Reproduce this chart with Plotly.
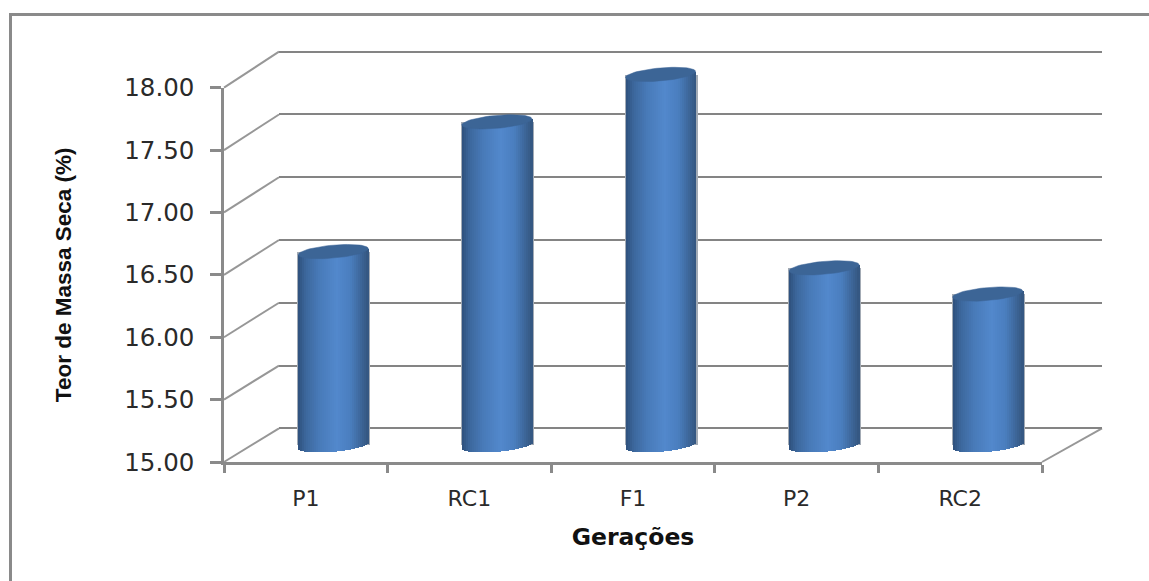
import math
import plotly.graph_objects as go

# ---- data ----
categories = ["P1", "RC1", "F1", "P2", "RC2"]
teor_massa_seca = [16.55, 17.59, 17.97, 16.42, 16.21]
y_ticks = [15.0, 15.5, 16.0, 16.5, 17.0, 17.5, 18.0]
y_tick_labels = ["15.00", "15.50", "16.00", "16.50", "17.00", "17.50", "18.00"]
x_title = "Gerações"
y_title = "Teor de Massa Seca (%)"

# ---- page geometry (pixels) ----
W, H = 1149, 581
FRONT_L, FRONT_R, FRONT_B, FRONT_T = 224, 1042, 462, 87.7
WALL_L, WALL_R, WALL_B, WALL_T = 279, 1102, 428.3, 51.7
MID_DX, MID_DY = 27.5, 17
BAR_PX = 70
MINOR_PX, TILT_PX = 6.5, 3.0
GREY = "#8a8a8a"
PAD = 0.2  # extra value range for hidden axes, so nothing falls on an axis end

px_per_cat = (FRONT_R - FRONT_L) / len(categories)
px_per_val = (FRONT_B - FRONT_T) / (y_ticks[-1] - y_ticks[0])
wall_px_per_val = (WALL_B - WALL_T) / (y_ticks[-1] - y_ticks[0])


def xdom(a, b):
    return [a / W, b / W]


def ydom(bottom, top):
    return [1 - bottom / H, 1 - top / H]


def shade(t):
    stops = [(-1.0, (46, 80, 124)), (-0.78, (60, 103, 156)), (-0.4, (72, 122, 184)),
             (0.1, (82, 136, 204)), (0.5, (74, 126, 190)), (0.82, (60, 100, 150)),
             (1.0, (52, 86, 128))]
    for (a, ca), (b, cb) in zip(stops, stops[1:]):
        if a <= t <= b:
            f = (t - a) / (b - a)
            r, g, bl = [round(p + (q - p) * f) for p, q in zip(ca, cb)]
            return f"rgb({r},{g},{bl})"
    return "rgb(52,86,128)"


fig = go.Figure()

# Front axes carry the labels
fig.add_trace(go.Scatter(x=categories, y=teor_massa_seca, mode="none",
                         xaxis="x", yaxis="y", hoverinfo="skip", showlegend=False))
# Back wall carries the gridlines
fig.add_trace(go.Scatter(x=categories, y=teor_massa_seca, mode="none",
                         xaxis="x2", yaxis="y2", hoverinfo="skip", showlegend=False))

positions = list(range(len(categories)))

# Pale halo behind each cylinder
fig.add_trace(go.Bar(x=positions, y=[v - y_ticks[0] for v in teor_massa_seca], base=y_ticks[0],
                     width=(BAR_PX + 3) / px_per_cat, marker=dict(color="#a3abb5", line_width=0),
                     xaxis="x3", yaxis="y3", cliponaxis=False, showlegend=False, hoverinfo="skip"))

# Cylinder bodies: narrow vertical strips that follow the curved bottom
N = 35
step = 2.0 / N
for j in range(N):
    t = -1 + step * (j + 0.5)
    root = math.sqrt(max(0.0, 1 - t * t))
    base = y_ticks[0] - (MINOR_PX * root - TILT_PX * t) / px_per_val
    tops = [v + TILT_PX * t / px_per_val for v in teor_massa_seca]
    fig.add_trace(go.Bar(
        x=[p + t * BAR_PX / 2 / px_per_cat for p in positions],
        y=[top - base for top in tops], base=base,
        width=(BAR_PX / N + 0.7) / px_per_cat,
        marker=dict(color=shade(t), line_width=0),
        xaxis="x3", yaxis="y3", cliponaxis=False, showlegend=False, hoverinfo="skip"))

# Elliptical caps
for p, v in zip(positions, teor_massa_seca):
    xs, ys = [], []
    for k in range(61):
        a = 2 * math.pi * k / 60
        c, s = math.cos(a), math.sin(a)
        xs.append(p + c * BAR_PX / 2 / px_per_cat)
        ys.append(v + (MINOR_PX * s + TILT_PX * c) / px_per_val)
    fig.add_trace(go.Scatter(x=xs, y=ys, mode="lines", fill="toself", fillcolor="#3c6596",
                             line=dict(color="#3c6596", width=0.5), xaxis="x3", yaxis="y3",
                             cliponaxis=False, showlegend=False, hoverinfo="skip"))

# Depth lines joining the front axis to the back wall
shapes = []
for v in y_ticks:
    f = (v - y_ticks[0]) / (y_ticks[-1] - y_ticks[0])
    shapes.append(dict(type="line", xref="paper", yref="paper", layer="below",
                       x0=FRONT_L / W, x1=WALL_L / W,
                       y0=1 - (FRONT_B - f * (FRONT_B - FRONT_T)) / H,
                       y1=1 - (WALL_B - f * (WALL_B - WALL_T)) / H,
                       line=dict(color="#979797", width=2)))
shapes.append(dict(type="line", xref="paper", yref="paper", layer="below",
                   x0=FRONT_R / W, x1=WALL_R / W, y0=1 - FRONT_B / H, y1=1 - WALL_B / H,
                   line=dict(color="#979797", width=2)))
# Outer frame: only the top and left edges are visible
shapes.append(dict(type="line", xref="paper", yref="paper", x0=10.5 / W, x1=1, y0=1 - 14.5 / H, y1=1 - 14.5 / H,
                   line=dict(color=GREY, width=3)))
shapes.append(dict(type="line", xref="paper", yref="paper", x0=10.5 / W, x1=10.5 / W, y0=0, y1=1 - 13 / H,
                   line=dict(color=GREY, width=3)))

fig.update_layout(
    width=W, height=H, autosize=False, showlegend=False,
    margin=dict(l=0, r=0, t=0, b=0, autoexpand=False), paper_bgcolor="white", plot_bgcolor="rgba(0,0,0,0)",
    barmode="overlay", bargap=0, shapes=shapes,
    xaxis=dict(domain=xdom(FRONT_L, FRONT_R), type="category", categoryorder="array",
               categoryarray=categories, range=[-0.5, len(categories) - 0.5], anchor="y",
               tickson="boundaries", ticks="outside", ticklen=8, tickwidth=2.5, tickcolor=GREY,
               ticklabelstandoff=15,
               showline=True, linecolor=GREY, linewidth=2.5, showgrid=False, zeroline=False,
               tickfont=dict(family="DejaVu Sans", size=22, color="#2a2a2a"),
               title=dict(text=x_title, standoff=19,
                          font=dict(family="DejaVu Sans", size=23.5, color="#111111", weight="bold"))),
    yaxis=dict(domain=ydom(FRONT_B, FRONT_T), range=[y_ticks[0], y_ticks[-1]], anchor="x",
               tickvals=y_ticks, ticktext=y_tick_labels, ticks="outside", ticklen=11,
               ticklabelstandoff=11,
               tickwidth=2.5, tickcolor=GREY, showline=True, linecolor=GREY, linewidth=2.5,
               showgrid=False, zeroline=False,
               tickfont=dict(family="DejaVu Sans", size=24.5, color="#2a2a2a"),
               title=dict(text=y_title, standoff=47,
                          font=dict(family="Liberation Sans", size=22.5, color="#111111", weight="bold"))),
    xaxis2=dict(domain=xdom(WALL_L, WALL_R), range=[-0.5, len(categories) - 0.5], anchor="y2",
                type="category", categoryorder="array", categoryarray=categories,
                showticklabels=False, ticks="", showline=False, showgrid=False, zeroline=False),
    yaxis2=dict(domain=ydom(WALL_B + PAD * wall_px_per_val, WALL_T - PAD * wall_px_per_val),
                range=[y_ticks[0] - PAD, y_ticks[-1] + PAD], anchor="x2",
                tickvals=y_ticks, showticklabels=False, ticks="", showline=False,
                showgrid=True, gridcolor="#848484", gridwidth=2.2, zeroline=False),
    xaxis3=dict(domain=xdom(FRONT_L + MID_DX, FRONT_R + MID_DX), range=[-0.5, len(categories) - 0.5],
                anchor="y3", visible=False),
    yaxis3=dict(domain=ydom(FRONT_B - MID_DY + PAD * px_per_val, FRONT_T - MID_DY - PAD * px_per_val),
                range=[y_ticks[0] - PAD, y_ticks[-1] + PAD], anchor="x3", visible=False),
)

fig.write_html("out.html", config={"displayModeBar": False},
               post_script="document.body.style.margin='0';document.body.style.overflow='hidden';")
